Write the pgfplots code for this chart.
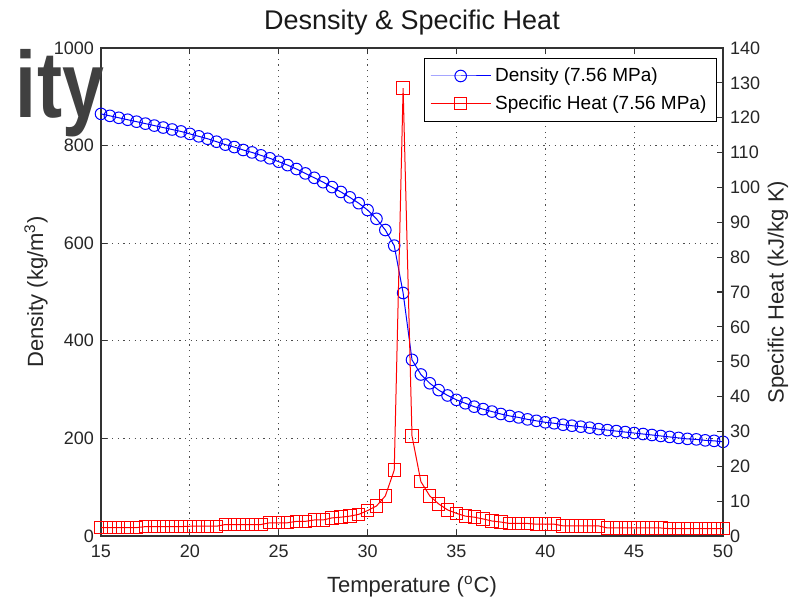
\documentclass[border=0pt]{standalone}
\usepackage{pgfplots}
\pgfplotsset{compat=1.18}
\usepackage{pgfplotstable}
\usepackage{fontspec}
\setmainfont{Liberation Sans}
\newfontfamily\bigfont[LetterSpace=1]{Liberation Sans}
\pgfplotstableread{
T rho cp
15 865 2.4
15.5 861 2.4
16 857 2.4
16.5 853 2.4
17 849 2.4
17.5 845 2.7
18 841 2.7
18.5 837 2.7
19 833 2.7
19.5 829 2.7
20 824 2.8
20.5 819 2.8
21 814 2.8
21.5 808 2.8
22 802 3.3
22.5 797 3.3
23 791 3.3
23.5 786 3.3
24 780 3.3
24.5 774 3.8
25 767 3.8
25.5 760 3.8
26 752 4.2
26.5 743 4.2
27 734 4.6
27.5 725 4.6
28 715 5.2
28.5 705 5.4
29 694 5.7
29.5 682 6.2
30 668 7.3
30.5 650 8.6
31 627 11.5
31.5 595 18.9
32 498 128.5
32.5 361 28.7
33 331 15.6
33.5 313 11.5
34 299 9.2
34.5 288 7.5
35 279 6.5
35.5 272 5.7
36 265 5.4
36.5 260 4.9
37 255 4.3
37.5 250 4.0
38 246 3.6
38.5 243 3.6
39 239 3.6
39.5 236 3.4
40 233 3.4
40.5 231 3.4
41 228 2.9
41.5 226 2.9
42 224 2.9
42.5 222 2.9
43 219 2.9
43.5 217 2.3
44 215 2.3
44.5 213 2.3
45 211 2.3
45.5 209 2.3
46 207 2.3
46.5 205 2.3
47 203 2.1
47.5 201 2.1
48 199 2.1
48.5 198 2.1
49 196 2.1
49.5 195 2.1
50 193 2.1
}\datatable
\begin{document}
\begin{tikzpicture}
\useasboundingbox (-50.5pt,-32pt) rectangle (345.5pt,268pt);
\pgfplotsset{
  common/.style={
    width=311pt, height=244pt, scale only axis,
    at={(0pt,0pt)}, anchor=south west,
    xmin=15, xmax=50,
    tick align=inside,
    major tick length=3pt,
    /pgf/number format/assume math mode=true,
    /pgf/number format/1000 sep={},
    scaled ticks=false,
    tick label style={font=\fontsize{9}{10}\selectfont, color=black!85},
    label style={font=\fontsize{11}{13}\selectfont, color=black!85},
    axis line style={line width=0.6pt, black!80},
    every tick/.style={line width=0.6pt, black!80},
  }
}
\begin{axis}[common,
  ymin=0, ymax=1000,
  xtick={15,20,...,50},
  ytick={0,200,...,1000},
  xtick pos=both, ytick pos=left,
  grid=major,
  grid style={line width=0.6pt, black!70, dash pattern=on 0.6pt off 2.2pt},
  xticklabel style={yshift=-1pt},
  xlabel={Temperature (\textsuperscript{o}C)},
  ylabel={Density (kg/m\textsuperscript{3})},
  xlabel style={at={(axis description cs:0.5,0)}, anchor=center, yshift=-25.5pt},
  ylabel style={at={(axis description cs:0,0.5)}, anchor=center, yshift=32.5pt},
  title={Desnsity \& Specific Heat},
  title style={at={(axis description cs:0.5,1)}, anchor=center, yshift=6.5pt, font=\fontsize{13.5}{15}\selectfont, color=black!90},
]
\addplot[blue, line width=0.5pt, mark=o, mark size=2.9pt, mark options={solid, line width=0.5pt}] table[x=T, y=rho] {\datatable};
\end{axis}
\begin{axis}[common,
  ymin=0, ymax=140,
  ytick={0,10,...,140},
  axis x line=none,
  axis y line*=right,
  ytick pos=right,
  ylabel={Specific Heat (kJ/kg K)},
  ylabel style={at={(axis description cs:1,0.5)}, anchor=center, yshift=-27.5pt},
  legend style={at={(1,1)}, anchor=north east, xshift=-3pt, yshift=-5pt,
    font=\fontsize{9.5}{11}\selectfont, draw=black, line width=0.6pt,
    inner xsep=3pt, inner ysep=2.5pt, row sep=1.5pt,
    cells={anchor=west}},
  legend image code/.code={%
    \draw[mark repeat=2, mark phase=2] plot coordinates {(0pt,0pt) (15pt,0pt) (30pt,0pt)};},
]
\addlegendimage{blue, line width=0.5pt, mark=o, mark size=2.9pt, mark options={solid, line width=0.5pt}}
\addlegendentry{Density (7.56 MPa)}
\addplot[red, line width=0.5pt, mark=square, mark size=3.1pt, mark options={solid, line width=0.5pt}] table[x=T, y=cp] {\datatable};
\addlegendentry{Specific Heat (7.56 MPa)}
\end{axis}
\node[anchor=base east, inner sep=0pt, xscale=0.8, text=black!75, font=\bigfont\bfseries\fontsize{47}{50}\selectfont] at (2pt,209pt) {ity};
\end{tikzpicture}
\end{document}
